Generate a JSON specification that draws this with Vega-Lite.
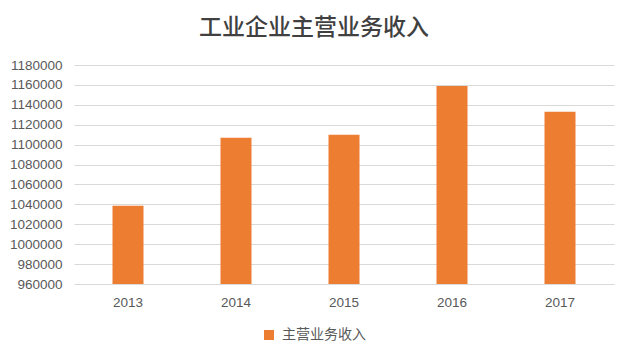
{
  "$schema": "https://vega.github.io/schema/vega-lite/v6.json",
  "width": 540,
  "height": 219,
  "autosize": "none",
  "padding": {"left": 74, "top": 65, "right": 17, "bottom": 78},
  "background": "white",
  "title": {
    "text": "工业企业主营业务收入",
    "font": "Noto Sans CJK SC",
    "fontSize": 23,
    "fontWeight": 500,
    "color": "#404040",
    "anchor": "middle",
    "dx": -30,
    "offset": 18
  },
  "data": {
    "values": [
      {"year": "2013", "series": "主营业务收入", "value": 1038659},
      {"year": "2014", "series": "主营业务收入", "value": 1107033},
      {"year": "2015", "series": "主营业务收入", "value": 1109853},
      {"year": "2016", "series": "主营业务收入", "value": 1158999},
      {"year": "2017", "series": "主营业务收入", "value": 1133161}
    ]
  },
  "mark": {"type": "bar", "clip": true},
  "encoding": {
    "x": {
      "field": "year",
      "type": "nominal",
      "title": null,
      "scale": {"paddingInner": 0.713, "paddingOuter": 0.3565},
      "axis": {
        "labelAngle": 0,
        "labelFont": "Liberation Sans",
        "labelFontSize": 13.5,
        "labelColor": "#595959",
        "labelPadding": 11,
        "ticks": false,
        "domain": false,
        "grid": false
      }
    },
    "y": {
      "field": "value",
      "type": "quantitative",
      "title": null,
      "scale": {"domain": [960000, 1180000], "zero": false, "nice": false},
      "axis": {
        "values": [960000, 980000, 1000000, 1020000, 1040000, 1060000, 1080000, 1100000, 1120000, 1140000, 1160000, 1180000],
        "format": "d",
        "labelFont": "Liberation Sans",
        "labelFontSize": 13.5,
        "labelColor": "#595959",
        "labelPadding": 12,
        "ticks": false,
        "domain": false,
        "grid": true,
        "gridColor": "#d9d9d9",
        "gridWidth": 1
      }
    },
    "color": {
      "field": "series",
      "type": "nominal",
      "scale": {"range": ["#ED7D31"]},
      "legend": {
        "title": null,
        "orient": "none",
        "legendX": 188,
        "legendY": 263,
        "symbolType": "square",
        "symbolSize": 100,
        "symbolStrokeWidth": 0,
        "labelFont": "Noto Sans CJK SC",
        "labelFontSize": 14,
        "labelColor": "#595959",
        "labelOffset": 6
      }
    }
  },
  "config": {"view": {"stroke": null}}
}
